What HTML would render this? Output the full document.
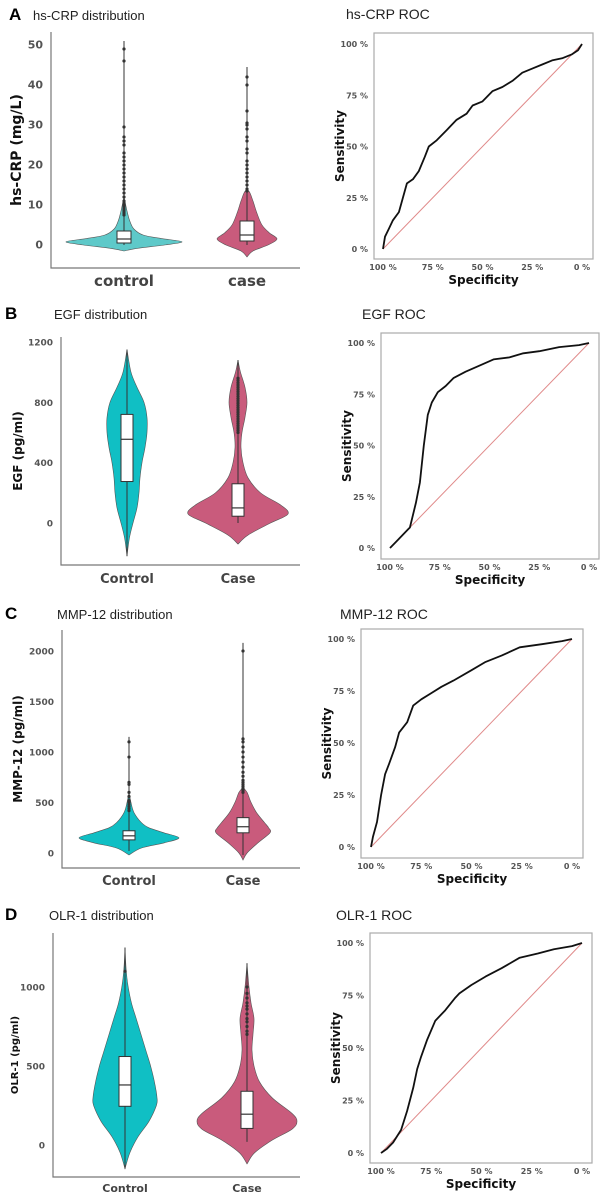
<!DOCTYPE html>
<html><head><meta charset="utf-8"><style>
body{margin:0;background:#fff;}
svg{display:block;font-family:"DejaVu Sans","Liberation Sans",sans-serif;}
.t{font-family:"Liberation Sans",sans-serif;font-size:13px;fill:#222;}
.L{font-family:"Liberation Sans",sans-serif;font-size:17px;font-weight:bold;fill:#000;}
.tk{font-size:9px;font-weight:bold;fill:#555;}
.ax{font-size:12px;font-weight:bold;fill:#111;}
.cat{font-size:13px;font-weight:bold;fill:#444;}
</style></head><body>
<svg id="fig" width="607" height="1198" viewBox="0 0 607 1198"></svg>
<script>
// ---------- DATA ----------
const crpCats=["control","case"];
const crpTicks=[0,10,20,30,40,50];
const crpCtrlVals=[-1.5,-0.8,0,0.8,1.6,2.5,4,6,8,10,12];
const crpCtrlDens=[0,0.25,0.7,1,0.65,0.33,0.17,0.1,0.06,0.03,0];
const crpCaseVals=[-3,-1.5,0,1.5,3,5,8,11,13,14];
const crpCaseDens=[0,0.2,0.7,1,0.75,0.5,0.33,0.2,0.1,0];
const crpBox=[[0.5,1.5,3.5],[1,2.5,6]];
const crpWhisk=[[0,51],[0,44.5]];
const crpCtrlOut=[7.5,8,8.5,9,9.5,10,10.5,11,12,13,14,15,16,17,18,19,20,21,22,23,25,26,27,29.5,46,49];
const crpCaseOut=[13.5,14,15,16,17,18,19,20,21,23,24,26,27,29,30,30.5,33.5,40,42];

const egfCats=["Control","Case"];
const egfTicks=[0,400,800,1200];
const egfCtrlVals=[-220,-100,0,100,200,300,400,500,600,700,800,900,1000,1150];
const egfCtrlDens=[0,0.12,0.3,0.5,0.6,0.65,0.75,0.9,1,1,0.85,0.5,0.2,0];
const egfCaseVals=[-140,-80,0,60,120,200,300,400,500,600,700,800,900,1000,1080];
const egfCaseDens=[0,0.2,0.65,1,0.85,0.45,0.2,0.1,0.06,0.08,0.14,0.18,0.14,0.05,0];
const egfBox=[[275,555,720],[45,100,260]];
const egfWhisk=[[-220,1150],[0,1080]];
const egfCtrlOut=[];
const egfCaseOut=[600,615,630,645,660,675,690,705,720,735,750,765,780,795,810,825,840,855,870,885,900,915,930,945,960];

const mmpCats=["Control","Case"];
const mmpTicks=[0,500,1000,1500,2000];
const mmpCtrlVals=[-20,50,100,150,200,250,300,400,500,600];
const mmpCtrlDens=[0,0.25,0.7,1,0.7,0.4,0.25,0.1,0.04,0];
const mmpCaseVals=[-70,0,100,200,250,300,400,500,600,650];
const mmpCaseDens=[0,0.15,0.55,1,0.95,0.8,0.5,0.3,0.15,0];
const mmpBox=[[130,170,220],[200,260,350]];
const mmpWhisk=[[20,1150],[-20,2080]];
const mmpCtrlOut=[420,440,460,480,500,520,560,600,680,700,950,1100];
const mmpCaseOut=[600,620,640,660,680,700,720,760,800,850,900,950,1000,1050,1100,1130,2000];

const olrCats=["Control","Case"];
const olrTicks=[0,500,1000];
const olrCtrlVals=[-150,-50,50,150,250,300,400,500,600,700,800,900,1000,1100,1250];
const olrCtrlDens=[0,0.15,0.4,0.75,0.98,1,0.92,0.8,0.65,0.5,0.35,0.2,0.1,0.04,0];
const olrCaseVals=[-120,-50,30,100,150,200,300,400,500,600,700,800,900,1000,1150];
const olrCaseDens=[0,0.15,0.5,0.9,1,0.9,0.5,0.25,0.14,0.1,0.12,0.14,0.08,0.04,0];
const olrBox=[[245,380,560],[105,195,340]];
const olrWhisk=[[-150,1250],[20,1150]];
const olrCtrlOut=[1100];
const olrCaseOut=[700,720,750,780,800,830,860,880,900,930,960,1000];

const rocTicks=[100,75,50,25,0];
const rocSensTicks=[0,25,50,75,100];
const crpSpec=[100,99,97,95,92,90,88,85,82,79,77,73,68,63,58,55,50,45,40,35,30,25,20,15,10,5,2,0];
const crpSens=[0,6,10,14,18,25,32,34,38,45,50,53,58,63,66,70,72,77,79,82,86,88,90,92,93,95,97,100];
const egfSpec=[100,97,94,91,90,87,85,83,81,79,76,72,68,62,55,48,40,33,25,15,5,0];
const egfSens=[0,3,6,9,10,22,32,50,65,71,76,79,83,86,89,92,93,95,96,98,99,100];
const mmpSpec=[100,99,97,95,93,91,88,86,82,79,75,70,65,59,50,43,35,26,15,5,0];
const mmpSens=[0,5,12,25,35,40,48,55,60,68,71,74,77,80,85,89,92,96,97.5,99,100];
const olrSpec=[100,97,94,90,87,84,82,80,77,73,68,63,61,55,48,40,31,22,14,5,0];
const olrSens=[0,2,5,11,20,31,40,46,54,63,68,74,76,80,84,88,93,95,97,98.5,100];

// ---------- DRAW ----------
const NS="http://www.w3.org/2000/svg";
const fig=document.getElementById('fig');
function mk(tag,attrs,parent){const e=document.createElementNS(NS,tag);for(const k in attrs)e.setAttribute(k,attrs[k]);(parent||fig).appendChild(e);return e;}
function txt(x,y,s,cls,anchor,parent){const e=mk('text',{x:x,y:y,class:cls,'text-anchor':anchor||'start'},parent);e.textContent=s;return e;}
function smooth(p){
  let d='M'+p[0][0].toFixed(1)+','+p[0][1].toFixed(1);
  for(let i=0;i<p.length-1;i++){
    const p0=p[Math.max(0,i-1)],p1=p[i],p2=p[i+1],p3=p[Math.min(p.length-1,i+2)];
    const c1=[p1[0]+(p2[0]-p0[0])/6,p1[1]+(p2[1]-p0[1])/6];
    const c2=[p2[0]-(p3[0]-p1[0])/6,p2[1]-(p3[1]-p1[1])/6];
    d+='C'+c1.map(v=>v.toFixed(1)).join(',')+' '+c2.map(v=>v.toFixed(1)).join(',')+' '+p2[0].toFixed(1)+','+p2[1].toFixed(1);
  }
  return d;
}

const TEAL="#10bfc4", TEAL_L="#5ec9c9", PINK="#c95b7c";

function violinPanel(o){
  const g=mk('g',{});
  
  
  const y=v=>o.y0-v*o.k;
  const L=txt(o.lx,o.ty,o.letter,'L','start',g);
  
  
  const T=txt(o.lx+o.tdx,o.ty,o.title,'t','start',g);
  
  
  const ax=mk('path',{d:`M${o.ax},${o.top}V${o.bot}H300`,stroke:'#777',fill:'none','stroke-width':1.2},g);
  
  
  o.ticks.forEach(t=>{
    const e=txt(o.ax-8,y(t)+3.5,String(t),'tk','end',g);
    if(o.big)e.setAttribute('style','font-size:11px');
    
    
  });
  const yt=txt(0,0,o.ylab,'ax','middle',g);
  yt.setAttribute('transform',`translate(${o.ylx},${(o.top+o.bot)/2}) rotate(-90)`);
  if(o.ylsize)yt.setAttribute('style','font-size:'+o.ylsize+'px');
  
  
  o.groups.forEach((gr,i)=>{
    const cx=o.cx[i];
    let left=[],right=[];
    gr.vals.forEach((v,j)=>{left.push([cx-gr.dens[j]*gr.W,y(v)]);right.push([cx+gr.dens[j]*gr.W,y(v)]);});
    const vp=mk('path',{d:smooth(left)+smooth(right.reverse()).replace('M','L')+'Z',fill:gr.color,stroke:'#555','stroke-width':0.6},g);
    
    
    const wl=mk('line',{x1:cx,x2:cx,y1:y(gr.whisk[0]),y2:y(gr.whisk[1]),stroke:'#333','stroke-width':1},g);
    
    
    gr.out.forEach(v=>{
      const c=mk('circle',{cx:cx,cy:y(v),r:1.6,fill:'#333'},g);
      
      
    });
    const b=gr.box;
    const r=mk('rect',{x:cx-o.bw/2,y:y(b[2]),width:o.bw,height:y(b[0])-y(b[2]),fill:'#fff',stroke:'#333','stroke-width':1},g);
    
    
    const m=mk('line',{x1:cx-o.bw/2,x2:cx+o.bw/2,y1:y(b[1]),y2:y(b[1]),stroke:'#333','stroke-width':1.2},g);
    
    
    const cl=txt(cx,o.caty,o.cats[i],'cat','middle',g);
    if(o.catsize)cl.setAttribute('style','font-size:'+o.catsize+'px');
    
    
  });
}

function rocPanel(o){
  const g=mk('g',{});
  
  
  const X=s=>o.x100+(100-s)/100*(o.x0-o.x100);
  const Y=s=>o.y0-s/100*(o.y0-o.y100);
  const T=txt(o.tx,o.ty,o.title,'t','start',g);
  T.setAttribute('style','font-size:14px');
  
  
  const fr=mk('rect',{x:o.fl,y:o.ft,width:o.fr-o.fl,height:o.fb-o.ft,fill:'none',stroke:'#aaa','stroke-width':1.2},g);
  
  
  rocSensTicks.forEach(t=>{
    const e=txt(o.fl-6,Y(t)+3,t+' %','tk','end',g);
    e.setAttribute('style','font-size:8px');
    
    
  });
  rocTicks.forEach(t=>{
    const e=txt(X(t),o.fb+11,t+' %','tk','middle',g);
    e.setAttribute('style','font-size:8px');
    
    
  });
  const xt=txt((o.fl+o.fr)/2,o.fb+25,'Specificity','ax','middle',g);
  
  
  const yt=txt(0,0,'Sensitivity','ax','middle',g);
  yt.setAttribute('transform',`translate(${o.fl-30},${(o.ft+o.fb)/2}) rotate(-90)`);
  
  
  const d=mk('line',{x1:X(100),y1:Y(0),x2:X(0),y2:Y(100),stroke:'#e08a8a','stroke-width':1},g);
  
  
  const pl=mk('polyline',{points:o.spec.map((s,i)=>X(s).toFixed(1)+','+Y(o.sens[i]).toFixed(1)).join(' '),fill:'none',stroke:'#111','stroke-width':1.8,'stroke-linejoin':'round'},g);
  
  
}

violinPanel({name:'hs-crp',letter:'A',lx:9,ty:20,tdx:24,title:'hs-CRP distribution',ax:51,top:32,bot:268,y0:245,k:4,
  ticks:crpTicks,big:true,ylab:'hs-CRP (mg/L)',ylx:21,ylsize:14,cats:crpCats,cx:[124,247],bw:14,caty:286,catsize:15,
  groups:[{vals:crpCtrlVals,dens:crpCtrlDens,W:58,color:TEAL_L,box:crpBox[0],whisk:crpWhisk[0],out:crpCtrlOut},
          {vals:crpCaseVals,dens:crpCaseDens,W:30,color:PINK,box:crpBox[1],whisk:crpWhisk[1],out:crpCaseOut}]});
violinPanel({name:'egf',letter:'B',lx:5,ty:319,tdx:49,title:'EGF distribution',ax:61,top:337,bot:565,y0:523,k:181/1200,
  ticks:egfTicks,ylab:'EGF (pg/ml)',ylx:22,cats:egfCats,cx:[127,238],bw:12,caty:583,
  groups:[{vals:egfCtrlVals,dens:egfCtrlDens,W:20,color:TEAL,box:egfBox[0],whisk:egfWhisk[0],out:egfCtrlOut},
          {vals:egfCaseVals,dens:egfCaseDens,W:50,color:PINK,box:egfBox[1],whisk:egfWhisk[1],out:egfCaseOut}]});
violinPanel({name:'mmp-12',letter:'C',lx:5,ty:619,tdx:52,title:'MMP-12 distribution',ax:62,top:630,bot:868,y0:853,k:202/2000,
  ticks:mmpTicks,ylab:'MMP-12 (pg/ml)',ylx:22,cats:mmpCats,cx:[129,243],bw:12,caty:885,
  groups:[{vals:mmpCtrlVals,dens:mmpCtrlDens,W:50,color:TEAL,box:mmpBox[0],whisk:mmpWhisk[0],out:mmpCtrlOut},
          {vals:mmpCaseVals,dens:mmpCaseDens,W:27,color:PINK,box:mmpBox[1],whisk:mmpWhisk[1],out:mmpCaseOut}]});
violinPanel({name:'olr-1',letter:'D',lx:5,ty:920,tdx:44,title:'OLR-1 distribution',ax:53,top:933,bot:1177,y0:1145,k:158/1000,
  ticks:olrTicks,ylab:'OLR-1 (pg/ml)',ylx:18,ylsize:10,cats:olrCats,cx:[125,247],bw:12,caty:1192,catsize:11,
  groups:[{vals:olrCtrlVals,dens:olrCtrlDens,W:32,color:TEAL,box:olrBox[0],whisk:olrWhisk[0],out:olrCtrlOut},
          {vals:olrCaseVals,dens:olrCaseDens,W:50,color:PINK,box:olrBox[1],whisk:olrWhisk[1],out:olrCaseOut}]});

rocPanel({name:'hs-crp',title:'hs-CRP ROC',tx:346,ty:19,fl:374,fr:593,ft:33,fb:259,x100:383,x0:582,y100:44,y0:249,spec:crpSpec,sens:crpSens});
rocPanel({name:'egf',title:'EGF ROC',tx:362,ty:319,fl:381,fr:599,ft:333,fb:559,x100:390,x0:589,y100:343,y0:548,spec:egfSpec,sens:egfSens});
rocPanel({name:'mmp-12',title:'MMP-12 ROC',tx:340,ty:619,fl:361,fr:583,ft:629,fb:858,x100:371,x0:572,y100:639,y0:847,spec:mmpSpec,sens:mmpSens});
rocPanel({name:'olr-1',title:'OLR-1 ROC',tx:336,ty:920,fl:370,fr:592,ft:933,fb:1163,x100:381,x0:582,y100:943,y0:1153,spec:olrSpec,sens:olrSens});
</script>
</body></html>
